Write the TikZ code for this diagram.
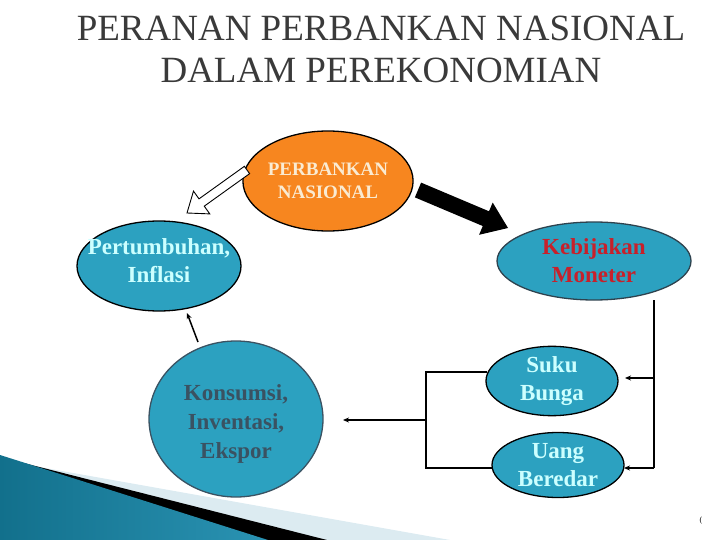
\documentclass[tikz,border=0pt]{standalone}
\usepackage{fontspec}
\setmainfont{Liberation Serif}
\usetikzlibrary{shapes.geometric,arrows.meta,calc}
\definecolor{tealc}{HTML}{2CA1C0}
\definecolor{orangec}{HTML}{F7861F}
\definecolor{creamc}{HTML}{FAEBD2}
\definecolor{cyantext}{HTML}{CCFFFF}
\definecolor{redtext}{HTML}{C8202A}
\definecolor{slatec}{HTML}{3A5262}
\definecolor{titlec}{HTML}{3A3A3A}
\definecolor{lightb}{HTML}{DCEBF1}
\definecolor{tealdark}{HTML}{12708C}
\definecolor{teallight}{HTML}{4DB5D6}
\definecolor{tealmid}{HTML}{2A93B3}
\begin{document}
\begin{tikzpicture}[x=1pt,y=-1pt,
  bub/.style={ellipse, draw=black, line width=1.3pt, fill=tealc, inner sep=0pt,
    align=center, font=\fontsize{23}{28}\selectfont\bfseries, text=cyantext},
  conn/.style={line width=1.8pt},
  tipb/.style={-{Stealth[length=6pt,width=5pt]}}]
\useasboundingbox (0,0) rectangle (720,540);

% decorative wedges
\fill[lightb] (0,460) -- (450,540) -- (0,540) -- cycle;
\fill[black] (0,457) -- (327,540) -- (0,540) -- cycle;
\shade[left color=tealdark, middle color=teallight, right color=tealmid] (0,455) -- (268,540) -- (0,540) -- cycle;

% title
\node[font=\fontsize{37}{42}\selectfont, text=titlec, align=center] (title) at (381,49)
  {PERANAN PERBANKAN NASIONAL\\DALAM PEREKONOMIAN};

% nodes
\node[ellipse, draw=black, line width=1.3pt, fill=orangec, inner sep=0pt,
  minimum width=152pt, minimum height=100pt, align=center,
  font=\fontsize{19}{23}\selectfont\bfseries, text=creamc] (perb) at (328,181)
  {PERBANKAN\\NASIONAL};
\node[bub, minimum width=164pt, minimum height=90pt] (pert) at (159,266) {};
\node[font=\fontsize{23}{28}\selectfont\bfseries, text=cyantext, align=center] (pertT) at (159,261)
  {Pertumbuhan,\\Inflasi};
\node[bub, draw=slatec!80!black, minimum width=194pt, minimum height=78pt, text=redtext] (kebij) at (594,261)
  {Kebijakan\\Moneter};
\node[bub, draw=slatec, minimum width=174pt, minimum height=156pt] (kons) at (236,419) {};
\node[font=\fontsize{23}{29}\selectfont\bfseries, text=slatec, align=center] (konsT) at (236,424)
  {Konsumsi,\\Inventasi,\\Ekspor};
\node[bub, minimum width=132pt, minimum height=65pt] (suku) at (552,381) {Suku\\Bunga};
\node[bub, minimum width=132pt, minimum height=65pt] (uang) at (558,465) {Uang\\Beredar};
\node[font=\fontsize{8}{9}\selectfont] (paren) at (701,521) {(};

% hollow block arrow
\coordinate (hA) at (247,170);
\coordinate (hB) at (187,213);
\coordinate (hH) at ($(hB)!18pt!(hA)$);
\draw[line width=0.9pt, fill=white]
  ($(hA)!4.5pt!90:(hB)$) -- ($(hH)!4.5pt!90:(hB)$) -- ($(hH)!14pt!90:(hB)$) -- (hB)
  -- ($(hH)!14pt!-90:(hB)$) -- ($(hH)!4.5pt!-90:(hB)$) -- ($(hA)!4.5pt!-90:(hB)$) -- cycle;

% black block arrow
\coordinate (bA) at (418,190);
\coordinate (bB) at (508,228);
\coordinate (bH) at ($(bB)!24pt!(bA)$);
\fill[black]
  ($(bA)!8pt!90:(bB)$) -- ($(bH)!8pt!90:(bB)$) -- ($(bH)!17.5pt!90:(bB)$) -- (bB)
  -- ($(bH)!17.5pt!-90:(bB)$) -- ($(bH)!8pt!-90:(bB)$) -- ($(bA)!8pt!-90:(bB)$) -- cycle;

% konsumsi -> pertumbuhan
\coordinate (kA) at (198,342);
\coordinate (kB) at (187,313);
\draw[line width=1.5pt, tipb] (kA) -- (kB);

% right bracket
\coordinate (rTop) at (654,300);
\coordinate (rBot) at (654,468);
\coordinate (rMid) at (654,378);
\coordinate (sukuR) at (625,378);
\coordinate (uangR) at (624,468);
\draw[conn] (rTop) -- (rBot);
\draw[conn, tipb] (rMid) -- (sukuR);
\draw[conn, tipb] (rBot) -- (uangR);

% left bracket
\coordinate (lTop) at (426,372);
\coordinate (lBot) at (426,468);
\coordinate (lMid) at (426,420);
\coordinate (sukuL) at (487,372);
\coordinate (uangL) at (493,468);
\coordinate (konsR) at (343,420);
\draw[conn] (sukuL) -- (lTop) -- (lBot) -- (uangL);
\draw[conn, tipb] (lMid) -- (konsR);
\end{tikzpicture}
\end{document}
